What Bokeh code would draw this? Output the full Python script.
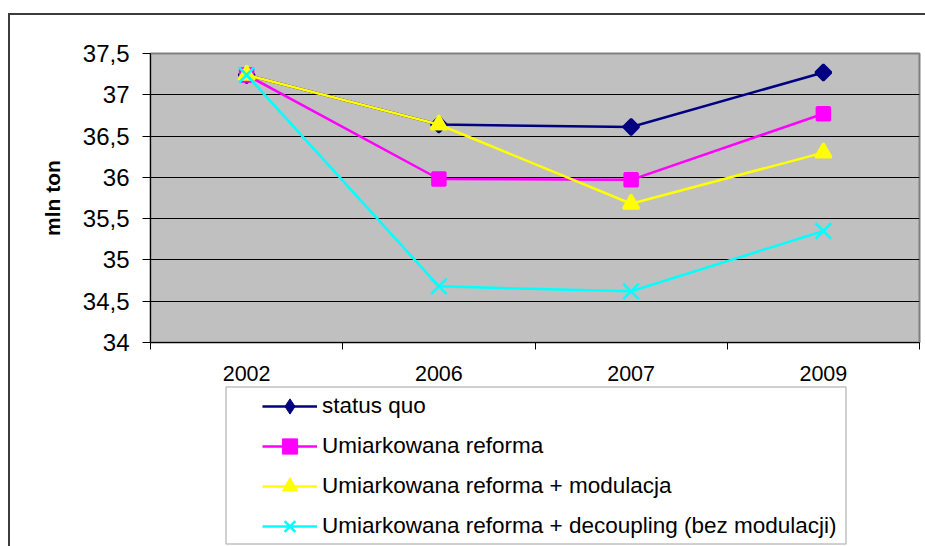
import numpy as np
from bokeh.plotting import figure
from bokeh.layouts import column
from bokeh.models import (Range1d, FixedTicker, CustomJSTickFormatter, Legend, LegendItem,
                          BoxAnnotation)
from bokeh.embed import file_html
from bokeh.resources import INLINE

years = ["2002", "2006", "2007", "2009"]
status_quo = [37.24, 36.64, 36.61, 37.27]
umiarkowana = [37.24, 35.98, 35.97, 36.77]
modulacja = [37.24, 36.64, 35.68, 36.30]
decoupling = [37.24, 34.68, 34.62, 35.35]
y_ticks = [34, 34.5, 35, 35.5, 36, 36.5, 37, 37.5]

labels = ["status quo", "Umiarkowana reforma", "Umiarkowana reforma + modulacja",
          "Umiarkowana reforma + decoupling (bez modulacji)"]

FONT = "Liberation Sans"

x = [i + 0.5 for i in range(len(years))]

p = figure(width=915, height=369, output_backend="svg", toolbar_location=None,
           x_range=Range1d(0, len(years)), y_range=Range1d(34, 37.5),
           min_border_left=140, min_border_right=6, min_border_top=38, min_border_bottom=42)

p.background_fill_color = "#C0C0C0"
p.border_fill_color = "white"
p.outline_line_color = "#808080"
p.outline_line_width = 2

# axes
p.xaxis.ticker = FixedTicker(ticks=x, minor_ticks=list(range(len(years) + 1)))
p.xaxis.major_label_overrides = {xv: y for xv, y in zip(x, years)}
p.xaxis.major_tick_out = 0
p.xaxis.major_tick_in = 0
p.xaxis.minor_tick_out = 7
p.xaxis.minor_tick_in = 0
p.xaxis.minor_tick_line_color = "black"
p.xaxis.axis_line_color = "black"
p.xaxis.major_label_text_font = FONT
p.xaxis.major_label_text_font_size = "21.5px"
p.xaxis.major_label_text_color = "black"
p.xaxis.major_label_standoff = 16

p.yaxis.ticker = FixedTicker(ticks=y_ticks, minor_ticks=[])
p.yaxis.formatter = CustomJSTickFormatter(code="return tick.toString().replace('.', ',');")
p.yaxis.major_tick_out = 8
p.yaxis.major_tick_in = 0
p.yaxis.major_tick_line_color = "black"
p.yaxis.axis_line_color = "black"
p.yaxis.major_label_text_font = FONT
p.yaxis.major_label_text_font_size = "24px"
p.yaxis.major_label_text_color = "black"
p.yaxis.major_label_standoff = 13
p.yaxis.axis_label = "mln ton"
p.yaxis.axis_label_text_font = FONT
p.yaxis.axis_label_text_font_size = "21px"
p.yaxis.axis_label_text_font_style = "bold"
p.yaxis.axis_label_text_color = "black"
p.yaxis.axis_label_standoff = 16

p.xgrid.grid_line_color = None
p.ygrid.grid_line_color = "black"
p.ygrid.grid_line_width = 1

colors = ["#000080", "#FF00FF", "#FFFF00", "#00FFFF"]
series_vals = [status_quo, umiarkowana, modulacja, decoupling]
plot_markers = [dict(marker="square", angle=np.pi / 4, size=11),
                dict(marker="square", size=13),
                dict(marker="triangle", size=16),
                dict(marker="x", size=22)]
legend_markers = ["diamond", "square", "triangle", "x"]

for vals, col, mk in zip(series_vals, colors, plot_markers):
    p.line(x, vals, line_color=col, line_width=2.5)
    p.scatter(x, vals, fill_color=col, line_color=col, line_width=2.5, **mk)

# legend panel (separate figure below the chart, same series)
lf = figure(width=915, height=162, output_backend="svg", toolbar_location=None,
            x_range=Range1d(100, 101), y_range=Range1d(100, 101),
            min_border=0, min_border_left=0, min_border_right=0,
            min_border_top=0, min_border_bottom=0)
lf.axis.visible = False
lf.grid.visible = False
lf.outline_line_color = None
lf.background_fill_color = "white"
lf.border_fill_color = "white"

lbox = BoxAnnotation(left=215.5, right=835.5, top=2.5, bottom=159.5,
                     left_units="canvas", right_units="canvas",
                     top_units="canvas", bottom_units="canvas",
                     fill_color="white", fill_alpha=0, line_color="#333333", line_width=1.5)
lf.add_layout(lbox)

items = []
for vals, col, mk, lab in zip(series_vals, colors, legend_markers, labels):
    ln = lf.line(x, vals, line_color=col, line_width=2.5)
    sc = lf.scatter(x, vals, marker=mk, fill_color=col, line_color=col,
                    line_width=2.5 if mk == "x" else 1)
    items.append(LegendItem(label=lab, renderers=[ln, sc]))

legend = Legend(items=items, location=(112, 1), padding=0, margin=0,
                border_line_alpha=0, background_fill_alpha=0,
                glyph_width=55, glyph_height=38, label_height=38, spacing=2,
                label_standoff=5, label_text_font=FONT, label_text_font_size="22.5px",
                label_text_color="black")
lf.add_layout(legend, "center")

layout = column(p, lf, spacing=0, margin=(13, 0, 0, 8),
                styles={"border-left": "2px solid #3c3c3c", "border-top": "2px solid #3c3c3c"})

open("out.html", "w").write(file_html(layout, INLINE))
